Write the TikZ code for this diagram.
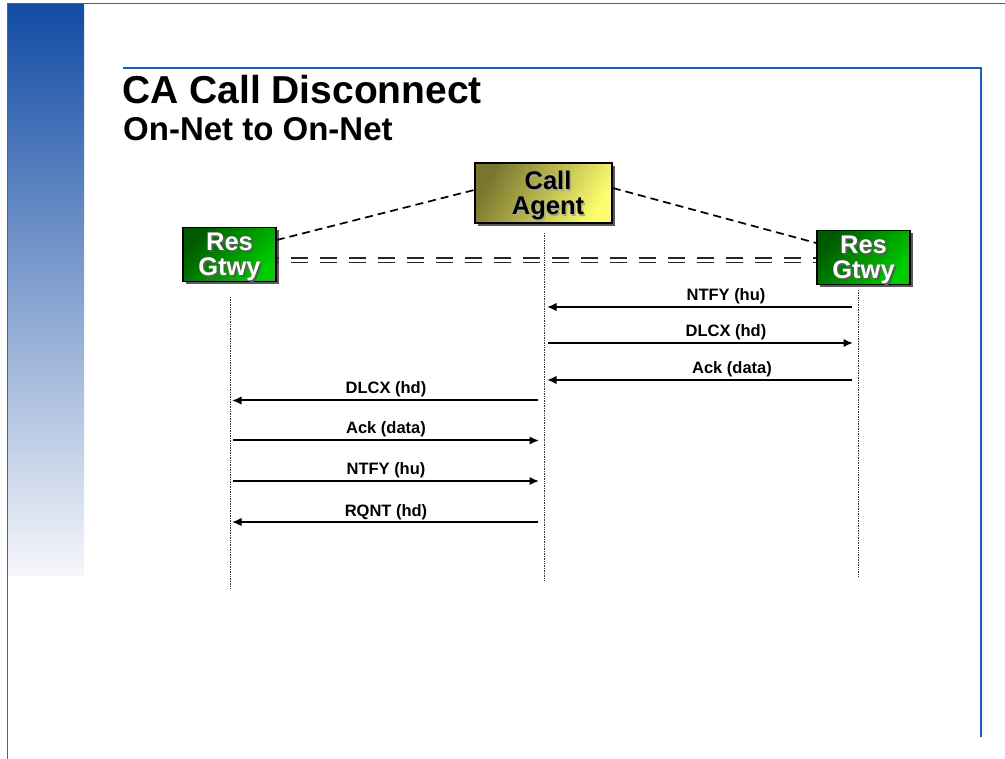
\documentclass[tikz,border=0pt]{standalone}
\usepackage{fontspec}
\setmainfont{Liberation Sans}
\usetikzlibrary{arrows.meta,shadows}
\definecolor{framegray}{RGB}{95,95,95}
\definecolor{rule}{RGB}{30,90,195}
\definecolor{bartop}{RGB}{18,76,165}
\definecolor{barbot}{RGB}{246,247,251}
\definecolor{gdark}{RGB}{0,88,0}
\definecolor{glight}{RGB}{0,205,0}
\definecolor{ydark}{RGB}{122,118,48}
\definecolor{ylight}{RGB}{252,252,110}
\definecolor{shd}{RGB}{90,90,90}
\begin{document}
\begin{tikzpicture}[x=1pt,y=-1pt,
  gwbox/.style={draw=black, line width=1.6pt, top color=gdark, bottom color=glight, shading angle=50,
    minimum width=93pt, minimum height=54pt, inner sep=0pt,
    drop shadow={shadow xshift=3pt, shadow yshift=-3pt, fill=shd, opacity=1}},
  cabox/.style={draw=black, line width=1.6pt, top color=ydark, bottom color=ylight, shading angle=60,
    minimum width=137pt, minimum height=60pt, inner sep=0pt,
    drop shadow={shadow xshift=3pt, shadow yshift=-3pt, fill=shd, opacity=1}},
  boxtxt/.style={font=\bfseries\fontsize{25.5}{25}\selectfont, align=center, inner sep=0pt},
  life/.style={densely dotted, line width=0.7pt, black!80},
  link/.style={dashed, dash pattern=on 8pt off 5pt, line width=1.7pt},
  dbl/.style={dashed, dash pattern=on 16.5pt off 12.5pt, dash phase=14.5pt, line width=1.5pt, black!85},
  msg/.style={line width=2pt, -{Latex[length=9.5pt,width=8.5pt]}},
  lbl/.style={font=\bfseries\fontsize{16.5}{18}\selectfont, anchor=base, inner sep=0pt},
]
\useasboundingbox (0,0) rectangle (1005,759);
% frame and decoration
\shade[top color=bartop, bottom color=barbot] (7,4) rectangle (84,575);
\draw[framegray, line width=1pt] (1005,4) -- (7,4) -- (7,759);
\draw[rule, line width=1.4pt] (123,68) -- (981,68) -- (981,737);
% titles
\node[anchor=base west, inner sep=0pt, font=\bfseries\fontsize{39}{40}\selectfont] (title) at (122,104) {CA Call Disconnect};
\node[anchor=base west, inner sep=0pt, font=\bfseries\fontsize{33}{34}\selectfont] (sub) at (123,141) {On-Net to On-Net};
% boxes
\node[gwbox] (lg) at (229.5,254.5) {};
\node[boxtxt, text=shd] (lgs) at (231.5,259) {Res\\Gtwy};
\node[boxtxt, text=white] (lgt) at (229.5,257) {Res\\Gtwy};
\node[gwbox] (rg) at (863.5,257.5) {};
\node[boxtxt, text=shd] (rgs) at (865.5,262) {Res\\Gtwy};
\node[boxtxt, text=white] (rgt) at (863.5,260) {Res\\Gtwy};
\node[cabox] (ca) at (543.5,193) {};
\node[boxtxt, text=gray!70] (cas) at (549.5,197) {Call\\Agent};
\node[boxtxt, text=black] (cat) at (548,195.5) {Call\\Agent};
% links
\draw[link] (lg.east |- 0,240) -- (ca.west |- 0,190);
\draw[link] (ca.east |- 0,188) -- (rg.west |- 0,243);
\draw[dbl] (lg.east |- 0,258.2) -- (rg.west |- 0,258.2);
\draw[dbl] (lg.east |- 0,262.3) -- (rg.west |- 0,262.3);
% lifelines
\coordinate (l1) at (230,297); \coordinate (l2) at (230,588);
\coordinate (c1) at (544,233); \coordinate (c2) at (544,580);
\coordinate (r1) at (858,290); \coordinate (r2) at (858,576);
\draw[life] (l1) -- (l2);
\draw[life] (c1) -- (c2);
\draw[life] (r1) -- (r2);
% messages right
\coordinate (m1a) at (852,307); \coordinate (m1b) at (547,307);
\coordinate (m2a) at (548,343); \coordinate (m2b) at (853,343);
\coordinate (m3a) at (852,380); \coordinate (m3b) at (547,380);
\draw[msg] (m1a) -- (m1b);
\draw[msg] (m2a) -- (m2b);
\draw[msg] (m3a) -- (m3b);
\node[lbl] (t1) at (726,301) {NTFY (hu)};
\node[lbl] (t2) at (726,337) {DLCX (hd)};
\node[lbl] (t3) at (732,374) {Ack (data)};
% messages left
\coordinate (m4a) at (538,400.5); \coordinate (m4b) at (232,400.5);
\coordinate (m5a) at (233,440.5); \coordinate (m5b) at (539,440.5);
\coordinate (m6a) at (233,481); \coordinate (m6b) at (539,481);
\coordinate (m7a) at (538,522); \coordinate (m7b) at (232,522);
\draw[msg] (m4a) -- (m4b);
\draw[msg] (m5a) -- (m5b);
\draw[msg] (m6a) -- (m6b);
\draw[msg] (m7a) -- (m7b);
\node[lbl] (t4) at (386,394) {DLCX (hd)};
\node[lbl] (t5) at (386,434) {Ack (data)};
\node[lbl] (t6) at (386,475) {NTFY (hu)};
\node[lbl] (t7) at (386,516) {RQNT (hd)};
\end{tikzpicture}
\end{document}
